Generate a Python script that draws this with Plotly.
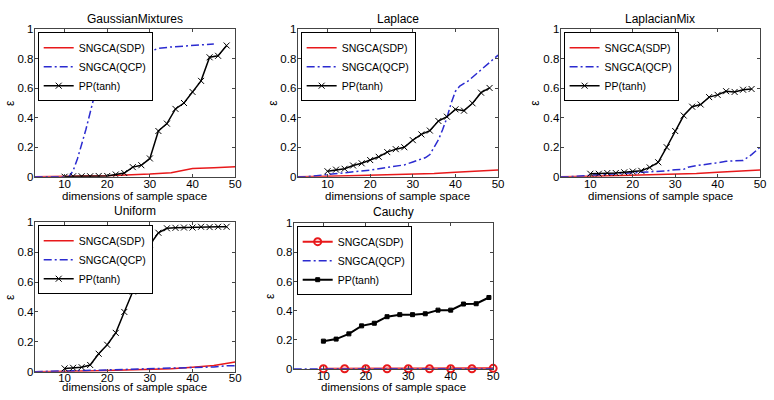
import plotly.graph_objects as go

# ---------------- data ----------------
panel_titles = ["GaussianMixtures", "Laplace", "LaplacianMix", "Uniform", "Cauchy"]
x_ticks = [10, 20, 30, 40, 50]
y_ticks = [0, 0.2, 0.4, 0.6, 0.8, 1]
y_ticktext = ["0", "0.2", "0.4", "0.6", "0.8", "1"]

pp_x = [10, 12, 14, 16, 18, 20, 22, 24, 26, 28, 30, 32, 34, 36, 38, 40, 42, 44, 46, 48]
sdp_x = [3, 5, 10, 15, 20, 25, 30, 35, 40, 45, 50]

# GaussianMixtures
gm_sdp_y = [0, 0, 0.003, 0.005, 0.007, 0.01, 0.018, 0.027, 0.055, 0.06, 0.068]
gm_qcp_x = [3, 5, 10, 11, 12, 13, 15, 17, 19, 21, 23, 25, 30, 32, 35, 40, 45]
gm_qcp_y = [0, 0, 0, 0.0, 0.04, 0.12, 0.32, 0.55, 0.68, 0.77, 0.82, 0.845, 0.85, 0.87, 0.88, 0.89, 0.9]
gm_pp_y = [0.0, 0.003, 0.003, 0.003, 0.005, 0.005, 0.015, 0.025, 0.065, 0.078, 0.124, 0.31,
           0.36, 0.46, 0.5, 0.575, 0.65, 0.81, 0.82, 0.89]

# Laplace
la_sdp_y = [0, 0, 0.003, 0.006, 0.009, 0.012, 0.016, 0.022, 0.03, 0.037, 0.045]
la_qcp_x = [3, 5, 10, 15, 20, 25, 28, 30, 33, 34, 36, 37, 38, 39, 40, 41, 43, 45, 47, 50]
la_qcp_y = [0, 0, 0.015, 0.03, 0.045, 0.068, 0.08, 0.1, 0.13, 0.15, 0.25, 0.32, 0.4, 0.5, 0.58,
            0.615, 0.65, 0.7, 0.75, 0.825]
la_pp_y = [0.037, 0.048, 0.054, 0.076, 0.091, 0.113, 0.135, 0.167, 0.187, 0.2, 0.248, 0.287,
           0.313, 0.378, 0.407, 0.457, 0.448, 0.498, 0.57, 0.602]

# LaplacianMix
lm_sdp_y = [0, 0, 0.003, 0.006, 0.009, 0.012, 0.016, 0.022, 0.03, 0.037, 0.045]
lm_qcp_x = [3, 5, 10, 15, 20, 25, 28, 30, 32, 33, 35, 38, 40, 42, 45, 46, 48, 50]
lm_qcp_y = [0, 0, 0.01, 0.02, 0.03, 0.035, 0.04, 0.048, 0.05, 0.065, 0.075, 0.085, 0.095,
            0.105, 0.105, 0.11, 0.15, 0.2]
lm_pp_y = [0.02, 0.02, 0.025, 0.025, 0.03, 0.035, 0.04, 0.063, 0.098, 0.2, 0.31, 0.415,
           0.475, 0.49, 0.54, 0.555, 0.58, 0.575, 0.59, 0.595]

# Uniform
un_sdp_y = [0, 0, 0.003, 0.005, 0.008, 0.011, 0.015, 0.02, 0.03, 0.042, 0.065]
un_qcp_x = [3, 5, 10, 15, 20, 25, 30, 35, 40, 45, 48, 50]
un_qcp_y = [0, 0, 0.005, 0.008, 0.012, 0.015, 0.017, 0.02, 0.025, 0.032, 0.04, 0.04]
un_pp_y = [0.022, 0.026, 0.03, 0.045, 0.12, 0.18, 0.26, 0.4, 0.537, 0.74, 0.85, 0.93,
           0.96, 0.963, 0.965, 0.965, 0.97, 0.968, 0.97, 0.97]

# Cauchy
ca_sdp_x = [10, 15, 20, 25, 30, 35, 40, 45, 50]
ca_sdp_y = [0, 0, 0, 0, 0, 0, 0, 0, 0.003]
ca_qcp_x = [3, 10, 20, 30, 40, 50]
ca_qcp_y = [0, 0, 0, 0, 0, 0]
ca_pp_x = [10, 13, 16, 19, 22, 25, 28, 31, 34, 37, 40, 43, 46, 49]
ca_pp_y = [0.19, 0.204, 0.24, 0.295, 0.313, 0.358, 0.372, 0.372, 0.378, 0.403, 0.403,
           0.445, 0.447, 0.49]

series_names = ["SNGCA(SDP)", "SNGCA(QCP)", "PP(tanh)"]

# ---------------- layout geometry (screen pixels) ----------------
W, H = 774, 400
# panels as (left, right, top, bottom)
boxes = [
    (35, 237, 24, 176),
    (300, 502, 24, 176),
    (565, 766, 24, 176),
    (35, 237, 223, 377),
    (296, 497, 224, 374),
]
title_y = [13, 13, 13, 211, 212]
xlabel_y = [196, 196, 196, 393, 393]
ylabel_x = [10, 275, 539, 10, 272]


def px(xs):
    return xs / W


def py(ys):
    return 1 - ys / H


FONT = "Liberation Sans, Arial, sans-serif"
RED = "#e8191b"
BLUE = "#2b2bd0"
BLACK = "#000000"

fig = go.Figure()

panel_data = [
    (sdp_x, gm_sdp_y, gm_qcp_x, gm_qcp_y, pp_x, gm_pp_y),
    (sdp_x, la_sdp_y, la_qcp_x, la_qcp_y, pp_x, la_pp_y),
    (sdp_x, lm_sdp_y, lm_qcp_x, lm_qcp_y, pp_x, lm_pp_y),
    (sdp_x, un_sdp_y, un_qcp_x, un_qcp_y, pp_x, un_pp_y),
    (ca_sdp_x, ca_sdp_y, ca_qcp_x, ca_qcp_y, ca_pp_x, ca_pp_y),
]

annotations = []
for i, (box, data) in enumerate(zip(boxes, panel_data)):
    n = i + 1
    sfx = "" if n == 1 else str(n)
    xa, ya = "x" + sfx, "y" + sfx
    lg = "legend" + sfx
    sx, sy, qx, qy, ppx, ppy = data
    cauchy = (i == 4)
    fig.add_trace(go.Scatter(
        x=sx, y=sy, name=series_names[0], xaxis=xa, yaxis=ya, legend=lg,
        mode="lines+markers" if cauchy else "lines",
        line=dict(color=RED, width=2 if cauchy else 1.5),
        marker=dict(symbol="circle-open", size=7, color=RED, line=dict(width=2)),
        cliponaxis=False))
    fig.add_trace(go.Scatter(
        x=qx, y=qy, name=series_names[1], xaxis=xa, yaxis=ya, legend=lg,
        mode="lines", line=dict(color=BLUE, width=1.5, dash="8px,3px,2px,3px")))
    fig.add_trace(go.Scatter(
        x=ppx, y=ppy, name=series_names[2], xaxis=xa, yaxis=ya, legend=lg,
        mode="lines+markers",
        line=dict(color=BLACK, width=2 if cauchy else 1.5),
        marker=dict(symbol="square" if cauchy else "x-thin-open", size=4 if cauchy else 6,
                    color=BLACK, line=dict(width=1, color=BLACK))))

    l, r, t, b = box
    axis_common = dict(showline=True, mirror="ticks", linecolor="#444", linewidth=1,
                       ticks="inside", ticklen=3, tickcolor="#444", showgrid=False,
                       zeroline=False, tickfont=dict(family=FONT, size=11.5, color="#000"))
    fig.layout["xaxis" + sfx] = dict(domain=[px(l), px(r)], range=[3, 50],
                                     tickvals=x_ticks, anchor=ya, ticklabelstandoff=-4,
                                     **axis_common)
    fig.layout["yaxis" + sfx] = dict(domain=[py(b), py(t)], range=[0, 1], tickvals=y_ticks,
                                     ticktext=y_ticktext, anchor=xa, ticklabelstandoff=-2,
                                     **axis_common)
    fig.layout[lg] = dict(x=px(l + 3), y=py(t + 3), xanchor="left", yanchor="top",
                          bgcolor="white", bordercolor="#000", borderwidth=1,
                          font=dict(family=FONT, size=10.5, color="#000"),
                          itemwidth=30, tracegroupgap=0)
    cx = (l + r) / 2
    annotations.append(dict(text=panel_titles[i], x=px(cx), y=py(title_y[i]),
                            xref="paper", yref="paper", showarrow=False,
                            xanchor="center", yanchor="middle",
                            font=dict(family=FONT, size=12, color="#000")))
    annotations.append(dict(text="dimensions of sample space", x=px(cx), y=py(xlabel_y[i]),
                            xref="paper", yref="paper", showarrow=False,
                            xanchor="center", yanchor="middle",
                            font=dict(family=FONT, size=11.5, color="#000")))
    annotations.append(dict(text="ε", x=px(ylabel_x[i]), y=py((t + b) / 2),
                            xref="paper", yref="paper", showarrow=False, textangle=-90,
                            xanchor="center", yanchor="middle",
                            font=dict(family=FONT, size=12, color="#000")))

fig.update_layout(width=W, height=H, autosize=False,
                  margin=dict(l=0, r=0, t=0, b=0),
                  paper_bgcolor="white", plot_bgcolor="white",
                  annotations=annotations, showlegend=True)

# remove the default 8px page margin so the 774x400 figure fills the window exactly
fig.write_html("out.html",
               config={"displayModeBar": False},
               post_script="document.body.style.margin='0';"
                           "document.documentElement.style.overflow='hidden';")
